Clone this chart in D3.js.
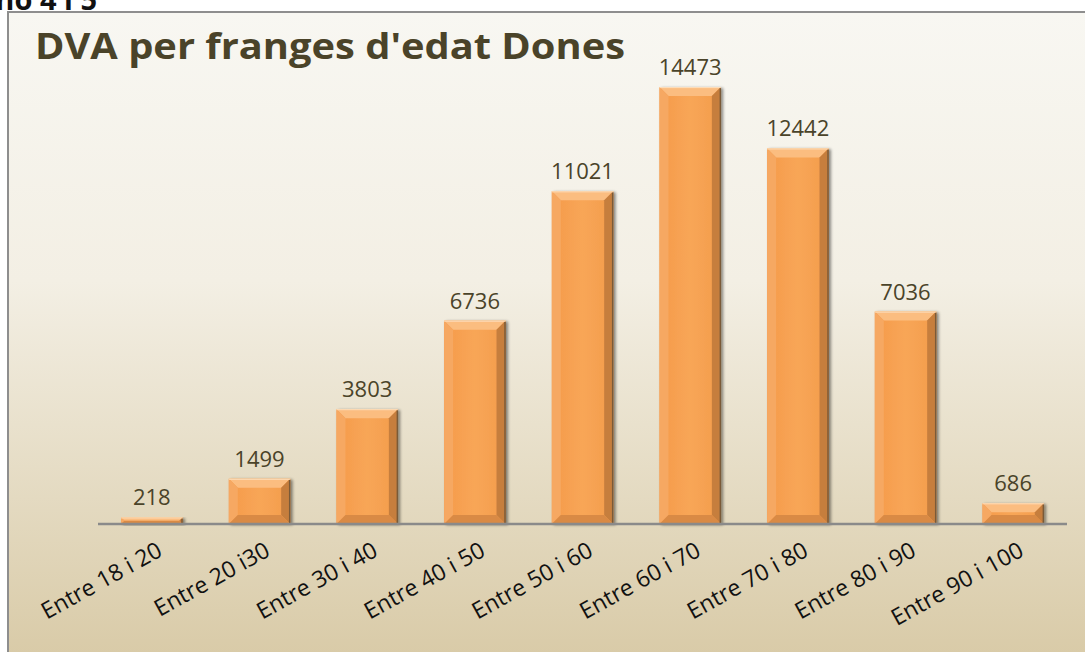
<!DOCTYPE html>
<html>
<head>
<meta charset="utf-8">
<script src="https://cdn.jsdelivr.net/npm/d3@7"></script>
<style>
  body { margin: 0; background: #fff; }
  svg { display: block; }
</style>
</head>
<body>
<svg id="chart" width="1085" height="652"></svg>
<script>
var categories = ["Entre 18 i 20", "Entre 20 i30", "Entre 30 i 40", "Entre 40 i 50", "Entre 50 i 60",
  "Entre 60 i 70", "Entre 70 i 80", "Entre 80 i 90", "Entre 90 i 100"];
var values = [218, 1499, 3803, 6736, 11021, 14473, 12442, 7036, 686];
var titleText = "DVA per franges d'edat Dones";
var captionText = "Gràfic no 4 i 5";

var svg = d3.select("#chart");
var w = 1085, h = 652;
var font = "'Open Sans', 'Noto Sans', sans-serif";

var defs = svg.append("defs");
var bg = defs.append("linearGradient").attr("id", "bg").attr("x1", 0).attr("y1", 0).attr("x2", 0).attr("y2", 1);
bg.append("stop").attr("offset", "0%").attr("stop-color", "#f8f7f2");
bg.append("stop").attr("offset", "40%").attr("stop-color", "#f3efe4");
bg.append("stop").attr("offset", "100%").attr("stop-color", "#d7c8a3");

var face = defs.append("linearGradient").attr("id", "face").attr("x1", 0).attr("y1", 0).attr("x2", 1).attr("y2", 0);
face.append("stop").attr("offset", "0%").attr("stop-color", "#f59a4a");
face.append("stop").attr("offset", "50%").attr("stop-color", "#f8a657");
face.append("stop").attr("offset", "100%").attr("stop-color", "#f39c4b");

var shadow = defs.append("filter").attr("id", "shadow").attr("x", "-20%").attr("y", "-20%").attr("width", "140%").attr("height", "140%");
shadow.append("feGaussianBlur").attr("in", "SourceAlpha").attr("stdDeviation", 1.5).attr("result", "b");
shadow.append("feOffset").attr("in", "b").attr("dx", 2).attr("dy", 1).attr("result", "o");
shadow.append("feComponentTransfer").attr("in", "o").attr("result", "s")
  .append("feFuncA").attr("type", "linear").attr("slope", 0.45);
var merge = shadow.append("feMerge");
merge.append("feMergeNode").attr("in", "s");
merge.append("feMergeNode").attr("in", "SourceGraphic");

// caption cut off at the top of the picture, as in the source image
svg.append("text")
  .attr("x", 97).attr("y", 10)
  .attr("text-anchor", "end")
  .attr("font-family", font).attr("font-weight", "bold").attr("font-size", 29)
  .attr("fill", "#111")
  .text(captionText);

// chart area with frame
svg.append("rect")
  .attr("x", 8).attr("y", 12).attr("width", w + 20).attr("height", h + 20)
  .attr("fill", "url(#bg)")
  .attr("stroke", "#8e8e8e").attr("stroke-width", 2);

svg.append("text")
  .attr("x", 35).attr("y", 59)
  .attr("font-family", font).attr("font-weight", "bold").attr("font-size", 36)
  .attr("textLength", 590).attr("lengthAdjust", "spacingAndGlyphs")
  .attr("fill", "#4a4329")
  .text(titleText);

var x = d3.scaleBand().domain(categories).range([98, 1067]).paddingInner(0.43).paddingOuter(0.215);
var y = d3.scaleLinear().domain([0, 16000]).range([524, 41]);

var data = categories.map(function(c, i){ return {cat: c, val: values[i]}; });

var bars = svg.append("g").selectAll("g.bar")
  .data(data).enter().append("g")
  .attr("class", "bar")
  .attr("filter", "url(#shadow)");

bars.each(function(d){
  var g = d3.select(this);
  var x0 = x(d.cat), x1 = x0 + x.bandwidth();
  var y0 = y(d.val), y1 = y(0);
  var bv = Math.min(9, (y1 - y0) / 2);
  g.append("rect")
    .attr("x", x0).attr("y", y0).attr("width", x1 - x0).attr("height", y1 - y0)
    .attr("fill", "url(#face)");
  // top bevel
  g.append("polygon").attr("fill", "#fbbd80")
    .attr("points", [[x0, y0], [x1, y0], [x1 - bv, y0 + bv], [x0 + bv, y0 + bv]].join(" "));
  // left bevel
  g.append("polygon").attr("fill", "#f6a862")
    .attr("points", [[x0, y0], [x0 + bv, y0 + bv], [x0 + bv, y1 - bv], [x0, y1]].join(" "));
  // right bevel
  g.append("polygon").attr("fill", "#c67e3e")
    .attr("points", [[x1, y0], [x1, y1], [x1 - bv, y1 - bv], [x1 - bv, y0 + bv]].join(" "));
  // bottom bevel
  g.append("polygon").attr("fill", "#d98a44")
    .attr("points", [[x0, y1], [x1, y1], [x1 - bv, y1 - bv], [x0 + bv, y1 - bv]].join(" "));
  g.append("line").attr("x1", x1 - 0.5).attr("x2", x1 - 0.5).attr("y1", y0 + 1).attr("y2", y1)
    .attr("stroke", "#7a5a38").attr("stroke-width", 1.5);
  g.append("line").attr("x1", x0).attr("x2", x1).attr("y1", y0 + 0.5).attr("y2", y0 + 0.5)
    .attr("stroke", "#fde0bf").attr("stroke-width", 1);
});

// value labels
svg.append("g").selectAll("text")
  .data(data).enter().append("text")
  .attr("x", function(d){ return x(d.cat) + x.bandwidth() / 2; })
  .attr("y", function(d){ return y(d.val) - 12; })
  .attr("text-anchor", "middle")
  .attr("font-family", font).attr("font-size", 22)
  .attr("fill", "#4a4329")
  .text(function(d){ return d.val; });

// axis
var axis = svg.append("g").attr("transform", "translate(0," + y(0) + ")")
  .call(d3.axisBottom(x).tickSize(0).tickPadding(0));
axis.attr("font-size", null).attr("font-family", null);
axis.select(".domain").attr("stroke", "#8a8a8a").attr("stroke-width", 2.5)
  .attr("d", "M98,0H1067");
axis.selectAll(".tick text")
  .style("font-family", font).style("font-size", "23px").attr("fill", "#111")
  .attr("text-anchor", "end")
  .attr("dy", 0).attr("y", 0)
  .attr("transform", "translate(12,31) rotate(-29)");
</script>
</body>
</html>
